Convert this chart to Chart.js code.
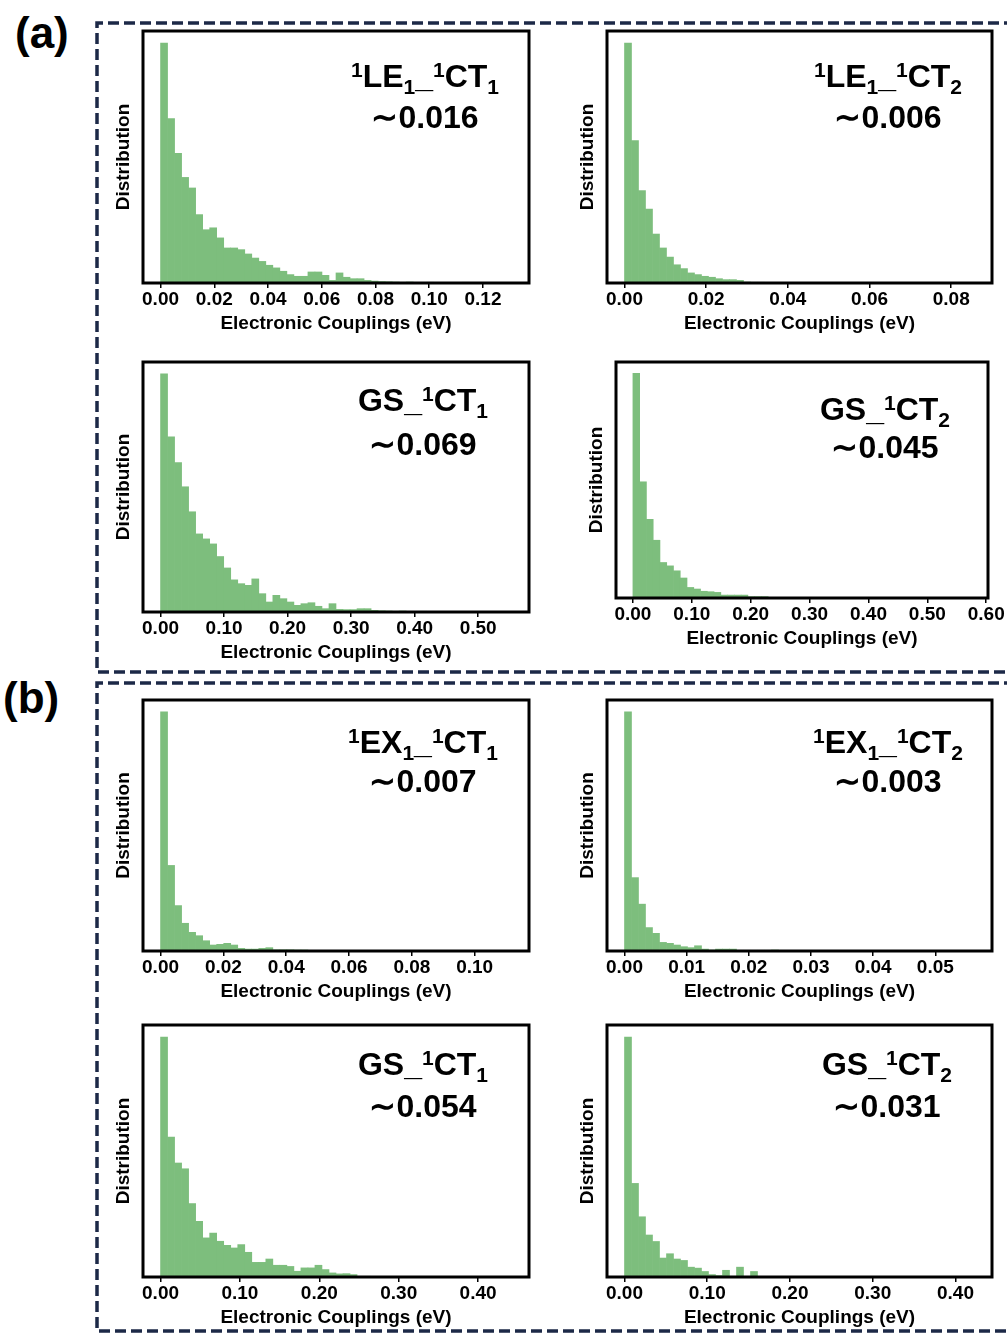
<!DOCTYPE html>
<html>
<head>
<meta charset="utf-8">
<script src="https://cdn.jsdelivr.net/npm/chart.js@4.4.1/dist/chart.umd.min.js"></script>
<style>
  html, body { margin: 0; padding: 0; background: #fff; }
  body { width: 1007px; height: 1334px; position: relative; overflow: hidden;
         font-family: "Liberation Sans", Arial, sans-serif; }
  canvas.panel { position: absolute; }
  .txt { position: absolute; font-weight: bold; color: #000; white-space: nowrap;
         text-align: center; font-size: 32px; line-height: 32px; width: 240px; }
  .txt .sm { font-size: 21px; position: relative; }
  .txt .up { top: -10px; }
  .txt .dn { top: 7px; }
  .tag { position: absolute; font-weight: bold; font-size: 44px; line-height: 44px; }
  svg { position: absolute; left: 0; top: 0; }
</style>
</head>
<body>
<svg width="1007" height="1334">
  <path d="M1015 23 H97 V672 H1015" fill="none" stroke="#1c2947" stroke-width="3.5" stroke-dasharray="11 5"/>
  <path d="M1015 683 H97 V1331 H1015" fill="none" stroke="#1c2947" stroke-width="3.5" stroke-dasharray="11 5"/>
</svg>
<div class="tag" style="left:15px; top:11px;">(a)</div>
<div class="tag" style="left:3px; top:676px;">(b)</div>

<script>
// histogram heights (% of tallest bin), 50 bins over [0, max coupling]
const le1ct1 = [100, 68.5, 54, 44, 39.6, 28.5, 22.2, 23, 18.8, 14.6,
  14.6, 13.9, 12.1, 10.4, 9, 7.4, 6.3, 4.9, 3.5, 2.8,
  2.8, 4.6, 4.6, 3.2, 1.1, 4.2, 2.4, 1.8, 1.8, 1.1,
  0.8, 0.6, 0.5, 0.4, 0.3, 0.4, 0.2, 0.2, 0.3, 0.1,
  0.1, 0.2, 0.1, 0.3, 0.1, 0, 0.1, 0, 0, 0.1];
const le1ct2 = [100, 59.3, 38.5, 30.8, 20.4, 14.6, 10.8, 7.6, 6, 4.2,
  3.5, 2.8, 2.4, 1.8, 1.4, 1.4, 1.1, 0.4, 0.3, 0.3,
  0.2, 0.2, 0.1, 0.1, 0.1, 0.1, 0, 0.1, 0, 0,
  0, 0, 0, 0, 0, 0, 0, 0, 0, 0,
  0, 0, 0, 0, 0, 0, 0, 0, 0, 0.1];
const gsct1A = [100, 73.6, 62.8, 52.6, 42.1, 32.8, 30.7, 28.6, 23.3, 18.5,
  13.5, 11.9, 11.2, 13.9, 7.7, 4.2, 7, 5.6, 4.2, 2.8,
  3.5, 3.9, 2.4, 1.4, 3.5, 1.1, 1, 1, 1.4, 1.4,
  0.7, 0.5, 0.4, 0.3, 0.4, 0.2, 0.2, 0.3, 0.1, 0.2,
  0.1, 0.1, 0, 0.1, 0, 0, 0.1, 0, 0, 0.1];
const gsct2A = [100, 51.7, 35, 25.7, 15.8, 14.3, 12.1, 8.9, 4.7, 4,
  3, 2.8, 2.5, 1.3, 1.3, 1.3, 1.3, 0.6, 0.6, 0.6,
  0.3, 0.3, 0.3, 0.3, 0.2, 0.1, 0.1, 0.2, 0.1, 0.1,
  0, 0.1, 0, 0, 0, 0, 0, 0, 0, 0,
  0, 0, 0, 0, 0, 0, 0, 0, 0, 0.1];
const ex1ct1 = [100, 35.8, 19, 11.6, 7.8, 6.4, 4.3, 2.5, 2.8, 3.2,
  2.5, 1.1, 0.8, 0.8, 1.1, 1.4, 0.5, 0.5, 0.5, 0.4,
  0.4, 0.2, 0.2, 0.1, 0.1, 0.1, 0.1, 0, 0.1, 0,
  0, 0, 0, 0, 0, 0, 0, 0, 0, 0,
  0, 0, 0, 0, 0, 0, 0, 0, 0, 0.1];
const ex1ct2 = [100, 30.7, 19.6, 9.8, 7.4, 3.6, 3.2, 2.5, 1.8, 1.4,
  2.2, 0.8, 0.4, 0.8, 0.8, 0.8, 0.3, 0.3, 0.3, 0.3,
  0.3, 0.4, 0.1, 0.1, 0.1, 0, 0.1, 0, 0, 0,
  0, 0, 0, 0, 0, 0, 0, 0, 0, 0,
  0, 0, 0, 0, 0, 0, 0, 0, 0, 0.1];
const gsct1B = [100, 58.3, 47.5, 45.1, 30.6, 23.2, 16.3, 18.3, 14.9, 13.2,
  12.1, 13.5, 10.3, 6.1, 6.1, 7.5, 4.9, 4.9, 4.4, 2.4,
  3.8, 3.8, 4.9, 3.1, 1.7, 1.3, 1.4, 1, 0.3, 0.3,
  0.2, 0.2, 0.1, 0.2, 0.1, 0.1, 0, 0.1, 0, 0,
  0, 0, 0, 0, 0, 0, 0, 0, 0, 0.1];
const gsct2B = [100, 39, 25.1, 17.5, 14.8, 7.9, 9.7, 7.5, 6.9, 4.1,
  3.7, 2.3, 1, 0.6, 2.8, 0.3, 4.1, 0.3, 2.3, 0.1,
  0.1, 0, 0.1, 0, 0, 0, 0, 0, 0, 0,
  0, 0, 0, 0, 0, 0, 0, 0, 0, 0,
  0, 0, 0, 0, 0, 0, 0, 0, 0, 0.1];

// upper end of each histogram (eV)
const maxCoupling = [0.1306, 0.0857, 0.5524, 0.5743, 0.1117, 0.0563, 0.442, 0.423];

const tickValues = [
  [0, 0.02, 0.04, 0.06, 0.08, 0.10, 0.12],
  [0, 0.02, 0.04, 0.06, 0.08],
  [0, 0.1, 0.2, 0.3, 0.4, 0.5],
  [0, 0.1, 0.2, 0.3, 0.4, 0.5, 0.6],
  [0, 0.02, 0.04, 0.06, 0.08, 0.10],
  [0, 0.01, 0.02, 0.03, 0.04, 0.05],
  [0, 0.1, 0.2, 0.3, 0.4],
  [0, 0.1, 0.2, 0.3, 0.4]
];

const pairNames = [
  '<span class="sm up">1</span>LE<span class="sm dn">1</span>_<span class="sm up">1</span>CT<span class="sm dn">1</span>',
  '<span class="sm up">1</span>LE<span class="sm dn">1</span>_<span class="sm up">1</span>CT<span class="sm dn">2</span>',
  'GS_<span class="sm up">1</span>CT<span class="sm dn">1</span>',
  'GS_<span class="sm up">1</span>CT<span class="sm dn">2</span>',
  '<span class="sm up">1</span>EX<span class="sm dn">1</span>_<span class="sm up">1</span>CT<span class="sm dn">1</span>',
  '<span class="sm up">1</span>EX<span class="sm dn">1</span>_<span class="sm up">1</span>CT<span class="sm dn">2</span>',
  'GS_<span class="sm up">1</span>CT<span class="sm dn">1</span>',
  'GS_<span class="sm up">1</span>CT<span class="sm dn">2</span>'
];
const avgCoupling = ['0.016', '0.006', '0.069', '0.045', '0.007', '0.003', '0.054', '0.031'];

const histograms = [le1ct1, le1ct2, gsct1A, gsct2A, ex1ct1, ex1ct2, gsct1B, gsct2B];

// frame of each plot [left, top, right, bottom] and label anchor [centerX, baseline1, baseline2]
const frames = [
  [143, 31, 529, 283], [607, 31, 992, 283],
  [143, 362, 529, 612], [616, 362, 988, 598],
  [143, 700, 529, 951], [607, 700, 992, 951],
  [143, 1025, 529, 1277], [607, 1025, 992, 1277]
];
const anchors = [
  [425, 87, 128], [888, 87, 128],
  [423, 411, 455], [885, 420, 458],
  [423, 753, 792], [888, 753, 792],
  [423, 1075, 1117], [887, 1075, 1117]
];

const PAD_T = 10, PAD_R = 30, Y_W = 40, X_H = 53;
const boldFont = { family: '"Liberation Sans", Arial, sans-serif', size: 19, weight: 'bold', lineHeight: 1.2 };

const framePlugin = {
  id: 'frame',
  afterDraw(chart) {
    const { ctx, chartArea: a } = chart;
    ctx.save();
    ctx.strokeStyle = '#000';
    ctx.lineWidth = 3;
    ctx.strokeRect(a.left, a.top, a.right - a.left, a.bottom - a.top);
    ctx.restore();
  }
};

function makePanel(i) {
  const [L, T, R, B] = frames[i];
  const canvas = document.createElement('canvas');
  canvas.className = 'panel';
  const w = R - L + Y_W + PAD_R, h = B - T + PAD_T + X_H;
  canvas.width = w; canvas.height = h;
  canvas.style.left = (L - Y_W) + 'px';
  canvas.style.top = (T - PAD_T) + 'px';
  canvas.style.width = w + 'px';
  canvas.style.height = h + 'px';
  document.body.appendChild(canvas);

  const xmax = maxCoupling[i];
  const heights = histograms[i];
  const bw = xmax / heights.length;
  const pts = heights.map((v, k) => ({ x: (k + 0.5) * bw, y: v }));

  new Chart(canvas, {
    type: 'bar',
    data: {
      datasets: [{
        data: pts,
        backgroundColor: '#7dbe7d',
        borderWidth: 0,
        barPercentage: 1,
        categoryPercentage: 1
      }]
    },
    options: {
      responsive: false,
      animation: false,
      devicePixelRatio: 1,
      layout: { padding: { top: PAD_T, right: PAD_R, left: 0, bottom: 0 } },
      plugins: { legend: { display: false }, tooltip: { enabled: false } },
      scales: {
        x: {
          type: 'linear',
          offset: false,
          min: -0.05 * xmax,
          max: 1.05 * xmax,
          afterBuildTicks: s => { s.ticks = tickValues[i].map(v => ({ value: v })); },
          afterFit: s => { s.height = X_H; s.paddingLeft = 0; s.paddingRight = 0; },
          grid: { offset: false, drawOnChartArea: false, drawTicks: true, tickLength: 5, color: '#000', lineWidth: 1.5 },
          border: { display: false },
          ticks: { color: '#000', font: boldFont, padding: 0, maxRotation: 0, autoSkip: false,
                   callback: v => v.toFixed(2) },
          title: { display: true, text: 'Electronic Couplings (eV)', color: '#000', font: boldFont,
                   padding: { top: 0, bottom: 1 } }
        },
        y: {
          min: 0,
          max: 105,
          afterFit: s => { s.width = Y_W; s.paddingTop = 0; s.paddingBottom = 0; },
          grid: { display: false },
          border: { display: false },
          ticks: { display: false },
          title: { display: true, text: 'Distribution', color: '#000', font: boldFont,
                   padding: { top: 9, bottom: 0 } }
        }
      }
    },
    plugins: [framePlugin]
  });

  // pair label and mean coupling
  const [cx, b1, b2] = anchors[i];
  const l1 = document.createElement('div');
  l1.className = 'txt';
  l1.innerHTML = pairNames[i];
  l1.style.left = (cx - 120) + 'px';
  l1.style.top = (b1 - 27) + 'px';
  document.body.appendChild(l1);
  const l2 = document.createElement('div');
  l2.className = 'txt';
  l2.textContent = '\u223C' + avgCoupling[i];
  l2.style.left = (cx - 120) + 'px';
  l2.style.top = (b2 - 27) + 'px';
  document.body.appendChild(l2);
}

for (let i = 0; i < frames.length; i++) makePanel(i);
</script>
</body>
</html>
